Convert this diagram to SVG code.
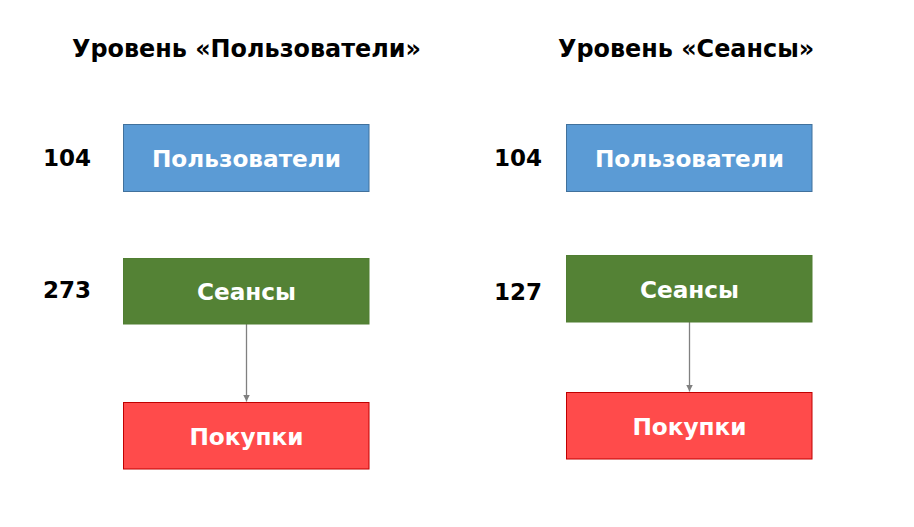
<svg xmlns="http://www.w3.org/2000/svg" width="914" height="527" viewBox="0 0 914 527">
<defs>
<style>
.t{font-family:"DejaVu Sans","Liberation Sans",sans-serif;font-weight:bold;}
.title{font-size:23.9px;fill:#000;}
.num{font-size:23px;fill:#000;}
.lbl{font-size:23.2px;fill:#fff;text-anchor:middle;}
.blue{fill:#5B9BD5;stroke:#41719C;stroke-width:1;}
.green{fill:#548235;stroke:#507E32;stroke-width:1;}
.red{fill:#FF4B4B;stroke:#C00000;stroke-width:1;}
.conn{stroke:#808080;stroke-width:1.3;fill:none;}
</style>
<marker id="ah" viewBox="0 0 10 10" refX="10" refY="5" markerWidth="7" markerHeight="7" markerUnits="userSpaceOnUse" orient="auto">
<path d="M0,0 L10,5 L0,10 z" fill="#808080"/>
</marker>
</defs>
<rect width="914" height="527" fill="#fff"/>
<text class="t title" x="72" y="57">Уровень «Пользователи»</text>
<text class="t title" x="558" y="57">Уровень «Сеансы»</text>
<g id="connectors">
<line class="conn" x1="246.5" y1="324" x2="246.5" y2="401.5" marker-end="url(#ah)"/>
<line class="conn" x1="689.5" y1="322" x2="689.5" y2="391.5" marker-end="url(#ah)"/>
</g>
<g id="n-left-users">
<rect class="blue" x="123.5" y="124.5" width="245.5" height="67"/>
<text class="t lbl" x="246.5" y="166.5">Пользователи</text>
</g>
<g id="n-left-sessions">
<rect class="green" x="123.5" y="258.5" width="245.5" height="65.5"/>
<text class="t lbl" x="246.5" y="300">Сеансы</text>
</g>
<g id="n-left-purchases">
<rect class="red" x="123.5" y="402.5" width="245.5" height="66.5"/>
<text class="t lbl" x="246.5" y="444.5">Покупки</text>
</g>
<g id="n-right-users">
<rect class="blue" x="566.5" y="124.5" width="245.5" height="67"/>
<text class="t lbl" x="689.5" y="166.5">Пользователи</text>
</g>
<g id="n-right-sessions">
<rect class="green" x="566.5" y="255.5" width="245.5" height="66.5"/>
<text class="t lbl" x="689.5" y="297.5">Сеансы</text>
</g>
<g id="n-right-purchases">
<rect class="red" x="566.5" y="392.5" width="245.5" height="66.5"/>
<text class="t lbl" x="689.5" y="434.5">Покупки</text>
</g>
<g id="counts">
<text class="t num" x="43" y="166">104</text>
<text class="t num" x="43" y="298">273</text>
<text class="t num" x="494" y="166">104</text>
<text class="t num" x="494" y="300">127</text>
</g>
</svg>
